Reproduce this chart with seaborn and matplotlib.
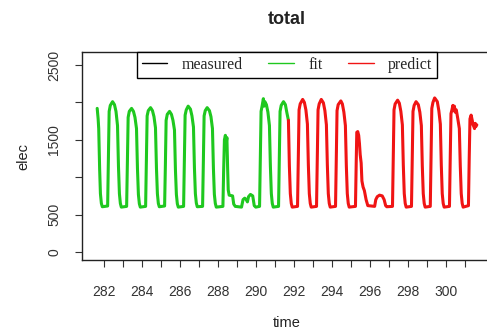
import matplotlib
matplotlib.use("Agg")
import matplotlib.pyplot as plt
import seaborn as sns
import pandas as pd

# ---- data (time in days, elec) ----
fit_time = [
    281.65, 281.70, 281.73, 281.78, 281.82, 281.87, 281.92,
    282.20, 282.24, 282.28, 282.34, 282.46, 282.56, 282.64, 282.72, 282.77, 282.82, 282.87, 282.92,
    283.20, 283.24, 283.28, 283.34, 283.46, 283.56, 283.64, 283.72, 283.77, 283.82, 283.87, 283.92,
    284.20, 284.24, 284.28, 284.34, 284.46, 284.56, 284.64, 284.72, 284.77, 284.82, 284.87, 284.92,
    285.20, 285.24, 285.28, 285.34, 285.46, 285.56, 285.64, 285.72, 285.77, 285.82, 285.87, 285.92,
    286.20, 286.24, 286.28, 286.34, 286.44, 286.56, 286.64, 286.72, 286.77, 286.82, 286.87, 286.92,
    287.20, 287.24, 287.28, 287.34, 287.44, 287.56, 287.64, 287.72, 287.77, 287.82, 287.87, 287.92,
    288.27, 288.31, 288.35, 288.40, 288.44, 288.48, 288.52, 288.55, 288.60, 288.78, 288.84, 288.92,
    289.25, 289.33, 289.42, 289.50, 289.56, 289.62, 289.72, 289.84, 289.92, 290.00,
    290.20, 290.24, 290.28, 290.34, 290.40, 290.44, 290.48, 290.56, 290.64, 290.72, 290.77, 290.82, 290.87, 290.92,
    291.20, 291.24, 291.28, 291.34, 291.46, 291.56, 291.64, 291.72,
]
fit_elec = [
    1920, 1780, 1650, 1100, 780, 650, 605,
    615, 1250, 1880, 1960, 2010, 1970, 1880, 1690, 1150, 780, 650, 600,
    610, 1200, 1800, 1880, 1920, 1880, 1800, 1650, 1120, 770, 645, 600,
    610, 1220, 1820, 1890, 1930, 1890, 1810, 1660, 1130, 780, 650, 605,
    615, 1150, 1760, 1840, 1880, 1840, 1760, 1630, 1100, 770, 645, 600,
    610, 1220, 1830, 1900, 1950, 1910, 1820, 1670, 1130, 780, 655, 605,
    610, 1200, 1820, 1890, 1930, 1890, 1810, 1650, 1120, 770, 650, 600,
    610, 1100, 1500, 1560, 1450, 1530, 1100, 830, 760, 750, 640, 610,
    600, 700, 720, 700, 670, 740, 770, 750, 620, 600,
    610, 1250, 1880, 1960, 2050, 1950, 2010, 1970, 1870, 1690, 1150, 780, 650, 600,
    610, 1250, 1880, 1960, 2010, 1970, 1860, 1760,
]

pred_time = [
    291.72, 291.77, 291.82, 291.87, 291.92,
    292.20, 292.24, 292.28, 292.34, 292.47, 292.56, 292.64, 292.72, 292.77, 292.82, 292.87, 292.92,
    293.20, 293.24, 293.28, 293.34, 293.45, 293.56, 293.64, 293.72, 293.77, 293.82, 293.87, 293.92,
    294.20, 294.24, 294.28, 294.34, 294.48, 294.56, 294.64, 294.72, 294.77, 294.82, 294.87, 294.92,
    295.25, 295.29, 295.32, 295.37, 295.42, 295.46, 295.50, 295.55, 295.59, 295.65, 295.72, 295.81, 295.90,
    296.26, 296.32, 296.40, 296.52, 296.66, 296.76, 296.84, 296.90,
    297.20, 297.24, 297.28, 297.34, 297.47, 297.56, 297.64, 297.72, 297.77, 297.82, 297.87, 297.92,
    298.20, 298.24, 298.28, 298.34, 298.44, 298.56, 298.64, 298.72, 298.77, 298.82, 298.87, 298.92,
    299.19, 299.23, 299.27, 299.33, 299.42, 299.56, 299.64, 299.72, 299.77, 299.82, 299.87, 299.92,
    300.20, 300.24, 300.28, 300.33, 300.38, 300.42, 300.46, 300.50, 300.56, 300.64, 300.72, 300.77, 300.82, 300.87, 300.92,
    301.20, 301.24, 301.28, 301.34, 301.40, 301.44, 301.48, 301.52, 301.56, 301.60, 301.64,
]
pred_elec = [
    1760, 1150, 780, 650, 600,
    610, 1250, 1900, 1980, 2040, 2000, 1900, 1710, 1160, 780, 650, 600,
    610, 1250, 1900, 1980, 2040, 1995, 1890, 1700, 1160, 780, 650, 600,
    610, 1240, 1890, 1970, 2020, 1980, 1870, 1690, 1150, 780, 650, 600,
    610, 1200, 1600, 1610, 1560, 1450, 1300, 1190, 950, 870, 820, 700, 620,
    610, 700, 740, 760, 750, 700, 620, 605,
    610, 1250, 1900, 1980, 2030, 1990, 1880, 1700, 1160, 780, 650, 600,
    610, 1240, 1880, 1960, 2010, 1970, 1870, 1690, 1150, 780, 650, 600,
    610, 1260, 1920, 2000, 2060, 2010, 1890, 1710, 1160, 780, 650, 600,
    610, 1250, 1850, 1900, 1960, 1890, 1950, 1870, 1900, 1780, 1650, 1150, 780, 650, 600,
    620, 1250, 1780, 1830, 1760, 1700, 1680, 1650, 1720, 1680, 1700,
]

legend_labels = ["measured", "fit", "predict"]
x_ticks = list(range(282, 302))
x_ticklabels = [str(t) if (t % 2 == 0 and t <= 300) else "" for t in x_ticks]
y_ticks = [0, 500, 1000, 1500, 2000, 2500]
y_ticklabels = ["0", "500", "", "1500", "", "2500"]

# ---- styling ----
sns.set_style("ticks")
plt.rcParams["font.family"] = ["Liberation Sans", "DejaVu Sans"]

fig = plt.figure(figsize=(4.87, 3.34), dpi=100)
ax = fig.add_axes([82 / 487, 74 / 334, 410 / 487, 208 / 334])

fit_df = pd.DataFrame({"time": fit_time, "elec": fit_elec})
pred_df = pd.DataFrame({"time": pred_time, "elec": pred_elec})
meas_df = pd.concat([fit_df, pred_df], ignore_index=True)

sns.lineplot(data=meas_df, x="time", y="elec", color="black", linewidth=1.0,
             sort=False, estimator=None, ax=ax, label=legend_labels[0])
sns.lineplot(data=fit_df, x="time", y="elec", color="#1fc81f", linewidth=2.2,
             sort=False, estimator=None, ax=ax, label=legend_labels[1])
sns.lineplot(data=pred_df, x="time", y="elec", color="#f01414", linewidth=2.2,
             sort=False, estimator=None, ax=ax, label=legend_labels[2])

ax.set_xlim(280.85, 302.44)
ax.set_ylim(-107, 2674)

ax.set_xticks(x_ticks)
ax.set_xticklabels(x_ticklabels, fontsize=10, color="#333333")
ax.set_yticks(y_ticks)
ax.set_yticklabels(y_ticklabels, fontsize=10, rotation=90, va="center", color="#333333")
ax.tick_params(axis="both", direction="out", length=5, width=0.8, color="#333333")
ax.tick_params(axis="x", pad=13)
ax.tick_params(axis="y", pad=10)

for sp in ax.spines.values():
    sp.set_visible(True)
    sp.set_color("#222222")
    sp.set_linewidth(1.0)

ax.set_xlabel("time", fontsize=10.5, labelpad=12, color="#222222")
ax.set_ylabel("elec", fontsize=10.5, labelpad=12, color="#222222")
ax.set_title("total", fontsize=13, fontweight="bold", pad=20, color="#222222")

handles, labels = ax.get_legend_handles_labels()
leg = ax.legend(handles, labels, ncol=3, loc="upper center", bbox_to_anchor=(0.5, 1.0),
                borderaxespad=0, frameon=True, fancybox=False, shadow=False,
                borderpad=0.3, handlelength=1.6, handletextpad=0.9, columnspacing=1.6,
                prop={"family": "Liberation Serif", "size": 11.5})
leg.get_frame().set_edgecolor("black")
leg.get_frame().set_linewidth(1.0)
leg.get_frame().set_alpha(1.0)
for lh in leg.get_lines():
    lh.set_linewidth(1.0)

fig.savefig("out.png", dpi=100)
